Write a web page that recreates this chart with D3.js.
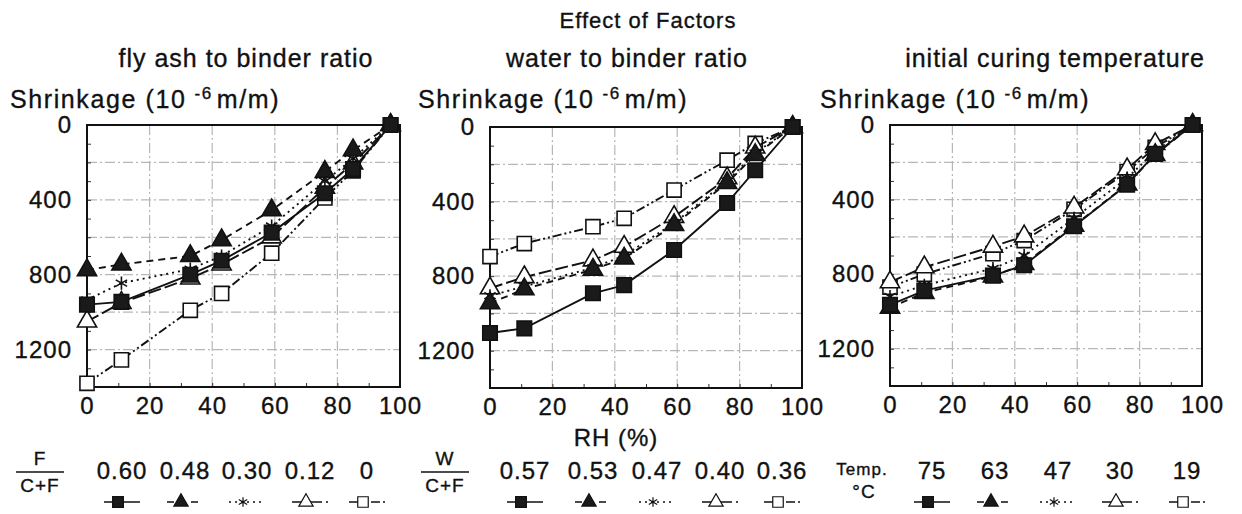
<!DOCTYPE html>
<html>
<head>
<meta charset="utf-8">
<script src="https://cdn.jsdelivr.net/npm/d3@7"></script>
<style>
  html, body { margin: 0; padding: 0; background: #fff; }
  svg { display: block; font-family: "Liberation Sans", Arial, Helvetica, sans-serif; }
  svg text { fill: #111; stroke: #111; stroke-width: 0.35px; letter-spacing: 1px; }
</style>
</head>
<body>
<svg id="chart" width="1242" height="514"></svg>
<script>
// ── Data ──
const rh = [0, 11, 33, 43, 59, 76, 85, 97];

const flyAshLabels = ['0.60', '0.48', '0.30', '0.12', '0'];
const flyAshSeries = [
  [960, 945, 800, 725, 575, 365, 235, 0],
  [775, 745, 700, 615, 455, 250, 135, 0],
  [935, 845, 770, 700, 540, 300, 180, 0],
  [1050, 950, 820, 745, 600, 335, 205, 0],
  [1380, 1255, 990, 900, 685, 390, 245, 0]
];

const waterLabels = ['0.57', '0.53', '0.47', '0.40', '0.36'];
const waterSeries = [
  [1105, 1080, 892, 848, 660, 408, 232, 0],
  [945, 870, 765, 705, 525, 300, 150, 0],
  [905, 855, 755, 690, 515, 290, 140, 0],
  [865, 805, 715, 642, 482, 275, 110, 0],
  [695, 625, 535, 490, 338, 178, 88, 0]
];

const tempLabels = ['75', '63', '47', '30', '19'];
const tempSeries = [
  [965, 888, 808, 752, 543, 320, 155, 0],
  [980, 900, 812, 745, 540, 318, 160, 0],
  [920, 860, 770, 700, 500, 285, 140, 0],
  [843, 763, 652, 597, 442, 237, 102, 0],
  [870, 800, 690, 620, 452, 250, 120, 0]
];

const yTicks = [0, 400, 800, 1200];
const xTicks = [0, 20, 40, 60, 80, 100];

// ── Series styles (shared by all three panels) ──
const styles = [
  { type: d3.symbolSquare,   size: 210, fill: '#1a1a1a', dash: null },
  { type: d3.symbolTriangle, size: 160, fill: '#1a1a1a', dash: '7,5' },
  { type: d3.symbolAsterisk, size: 120, fill: 'none',    dash: '2,4' },
  { type: d3.symbolTriangle, size: 160, fill: '#fff',    dash: '13,4' },
  { type: d3.symbolSquare,   size: 200, fill: '#fff',    dash: '9,3,2,3,2,3' }
];

const svg = d3.select('#chart');
const FONT = 25;
const TICK_FONT = 24;

// ── Titles ──
svg.append('text')
  .attr('x', 648).attr('y', 28)
  .attr('text-anchor', 'middle').attr('font-size', 22)
  .text('Effect of Factors');

svg.append('text')
  .attr('x', 616).attr('y', 446)
  .attr('text-anchor', 'middle').attr('font-size', TICK_FONT)
  .text('RH (%)');

function drawPanel(cfg) {
  const x = d3.scaleLinear().domain([0, 100]).range([cfg.left, cfg.right]);
  const y = d3.scaleLinear().domain([0, 1400]).range([cfg.top, cfg.bottom]);
  const g = svg.append('g');

  // subtitle and axis title
  g.append('text')
    .attr('x', cfg.subX).attr('y', 67)
    .attr('text-anchor', 'middle').attr('font-size', FONT)
    .text(cfg.subtitle);

  const yt = g.append('text')
    .attr('x', cfg.yTitleX).attr('y', 108)
    .attr('font-size', FONT).style('letter-spacing', '1.6px');
  yt.append('tspan').text('Shrinkage (10');
  yt.append('tspan').attr('font-size', 17).attr('dx', 8).attr('dy', -9).text('-6');
  yt.append('tspan').attr('dx', 4).attr('dy', 9).text('m/m)');

  // grid
  const grid = g.append('g')
    .attr('stroke', '#a0a0a0').attr('stroke-width', 1.2)
    .attr('stroke-dasharray', '10,3,2,3').attr('opacity', 0.75);
  grid.selectAll('line.h').data(d3.range(200, 1400, 200)).join('line')
    .attr('x1', cfg.left).attr('x2', cfg.right)
    .attr('y1', d => y(d)).attr('y2', d => y(d));
  grid.selectAll('line.v').data([20, 40, 60, 80]).join('line')
    .attr('y1', cfg.top).attr('y2', cfg.bottom)
    .attr('x1', d => x(d)).attr('x2', d => x(d));

  // inward minor ticks
  g.append('g')
    .attr('transform', `translate(${cfg.left},0)`)
    .call(d3.axisRight(y).tickValues(d3.range(100, 1400, 100)).tickSize(4).tickFormat(''))
    .call(a => a.select('.domain').remove())
    .selectAll('line').attr('stroke', '#333');
  g.append('g')
    .attr('transform', `translate(0,${cfg.bottom})`)
    .call(d3.axisTop(x).tickValues(d3.range(10, 100, 10)).tickSize(4).tickFormat(''))
    .call(a => a.select('.domain').remove())
    .selectAll('line').attr('stroke', '#333');

  // tick labels
  g.append('g')
    .attr('transform', `translate(${cfg.left},0)`)
    .call(d3.axisLeft(y).tickValues(yTicks).tickSize(0).tickPadding(15).tickFormat(d3.format('d')))
    .call(a => a.select('.domain').remove())
    .selectAll('text')
    .attr('font-size', TICK_FONT).attr('font-family', null);
  g.append('g')
    .attr('transform', `translate(0,${cfg.bottom})`)
    .call(d3.axisBottom(x).tickValues(xTicks).tickSize(0).tickPadding(10).tickFormat(d3.format('d')))
    .call(a => a.select('.domain').remove())
    .selectAll('text')
    .attr('font-size', TICK_FONT).attr('font-family', null);

  // frame
  g.append('rect')
    .attr('x', cfg.left).attr('y', cfg.top)
    .attr('width', cfg.right - cfg.left).attr('height', cfg.bottom - cfg.top)
    .attr('fill', 'none').attr('stroke', '#111').attr('stroke-width', 2);

  const line = d3.line().x((d, i) => x(rh[i])).y(d => y(d));

  // series, drawn back to front so the filled squares sit on top
  d3.range(cfg.series.length - 1, -1, -1).forEach(si => {
    const st = styles[si];
    const vals = cfg.series[si];
    g.append('path')
      .attr('d', line(vals))
      .attr('fill', 'none').attr('stroke', '#111').attr('stroke-width', 1.9)
      .attr('stroke-dasharray', st.dash);
    g.selectAll(null).data(vals).join('path')
      .attr('transform', (d, i) => `translate(${x(rh[i])},${y(d)})`)
      .attr('d', d3.symbol().type(st.type).size(st.size))
      .attr('fill', st.fill).attr('stroke', '#111').attr('stroke-width', 1.6);
  });

  // legend
  const leg = g.append('g');
  if (cfg.fraction) {
    leg.append('text').attr('x', cfg.fracX).attr('y', 465)
      .attr('text-anchor', 'middle').attr('font-size', 19).text(cfg.fraction[0]);
    leg.append('line').attr('x1', cfg.fracX - 24).attr('x2', cfg.fracX + 24)
      .attr('y1', 472).attr('y2', 472).attr('stroke', '#111').attr('stroke-width', 1.3);
    leg.append('text').attr('x', cfg.fracX).attr('y', 492)
      .attr('text-anchor', 'middle').attr('font-size', 19).text(cfg.fraction[1]);
  } else {
    leg.append('text').attr('x', cfg.fracX).attr('y', 475)
      .attr('text-anchor', 'middle').attr('font-size', 17).text('Temp.');
    leg.append('text').attr('x', cfg.fracX + 2).attr('y', 498)
      .attr('text-anchor', 'middle').attr('font-size', 19).text('°C');
  }
  cfg.labels.forEach((lab, i) => {
    const cx = cfg.legX[i];
    const st = styles[i];
    leg.append('text').attr('x', cx).attr('y', 479)
      .attr('text-anchor', 'middle').attr('font-size', TICK_FONT).text(lab);
    leg.append('line')
      .attr('x1', cx - 18).attr('x2', cx + 18).attr('y1', 502).attr('y2', 502)
      .attr('stroke', '#111').attr('stroke-width', 1.5)
      .attr('stroke-dasharray', st.dash);
    leg.append('path')
      .attr('transform', `translate(${cx - 4},502)`)
      .attr('d', d3.symbol().type(st.type).size(st.size * 0.55))
      .attr('fill', st.fill).attr('stroke', '#111').attr('stroke-width', 1.2);
  });
}

drawPanel({
  left: 87, right: 400, top: 125, bottom: 387,
  subtitle: 'fly ash to binder ratio', subX: 246, yTitleX: 10,
  series: flyAshSeries, labels: flyAshLabels,
  fraction: ['F', 'C+F'], fracX: 40,
  legX: [122, 185, 247, 310, 367]
});

drawPanel({
  left: 490, right: 802, top: 127, bottom: 388,
  subtitle: 'water to binder ratio', subX: 627, yTitleX: 418,
  series: waterSeries, labels: waterLabels,
  fraction: ['W', 'C+F'], fracX: 445,
  legX: [525, 593, 657, 720, 782]
});

drawPanel({
  left: 890, right: 1202, top: 125, bottom: 386,
  subtitle: 'initial curing temperature', subX: 1055, yTitleX: 820,
  series: tempSeries, labels: tempLabels,
  fraction: null, fracX: 862,
  legX: [932, 995, 1058, 1120, 1187]
});
</script>
</body>
</html>
